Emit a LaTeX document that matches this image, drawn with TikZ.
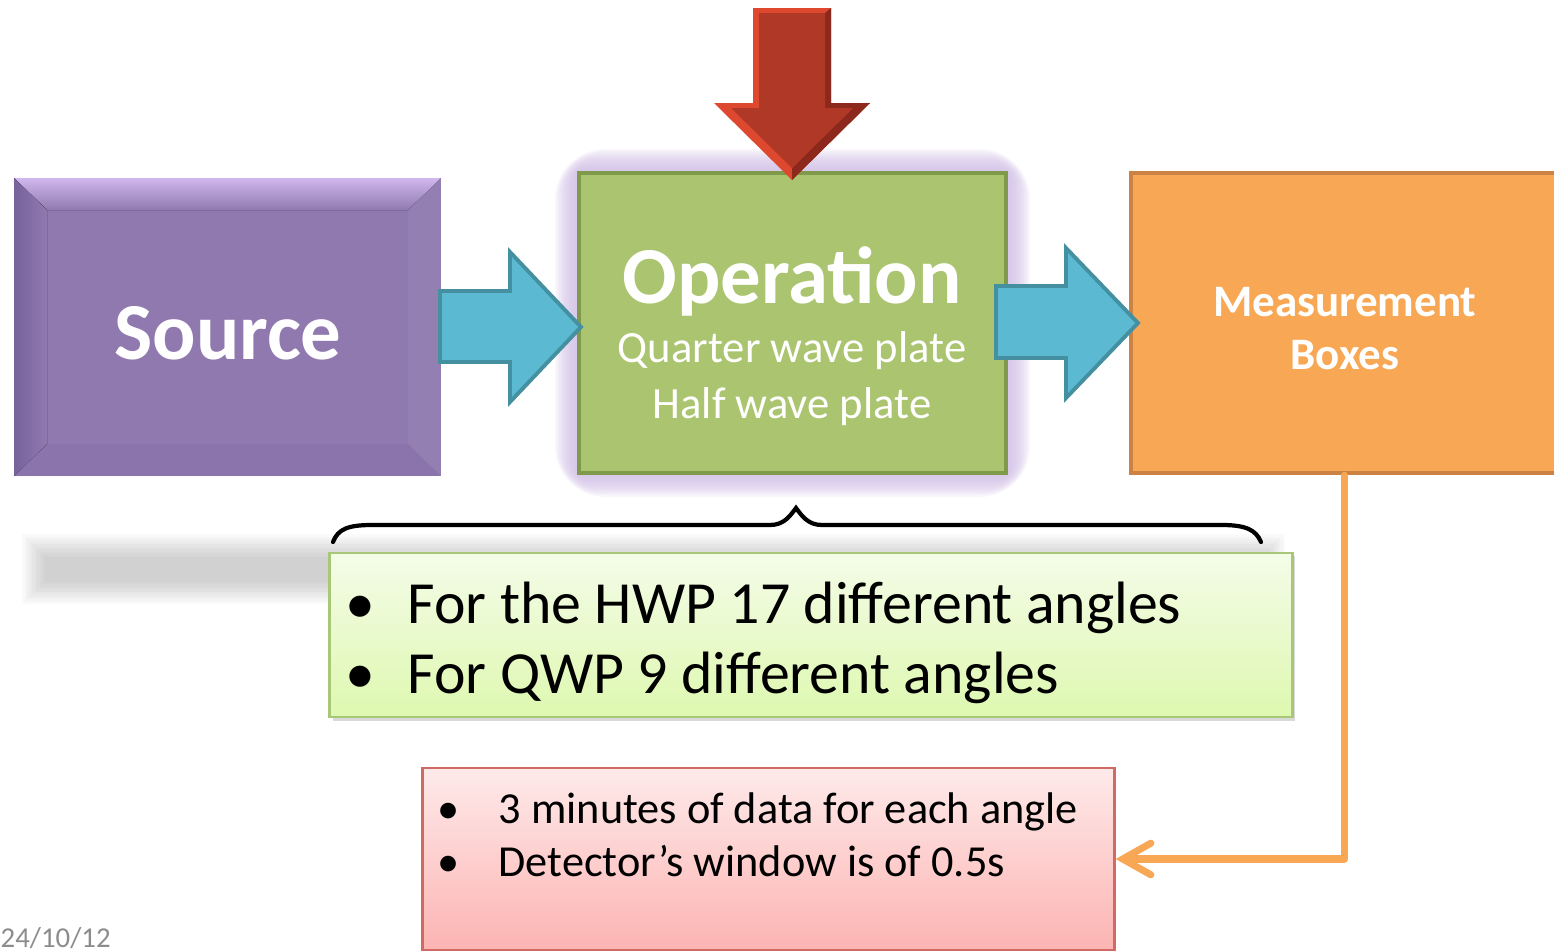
\documentclass[tikz,border=0pt]{standalone}
\usepackage{fontspec}
\setmainfont{Carlito}
\usepackage{xcolor}
\usepackage{tikz}
\usetikzlibrary{arrows.meta,positioning}

\definecolor{srcpurple}{RGB}{143,121,175}
\definecolor{srclight}{RGB}{208,184,238}
\definecolor{srcdark}{RGB}{120,98,155}
\definecolor{opgreen}{RGB}{171,196,111}
\definecolor{opedge}{RGB}{126,154,74}
\definecolor{opglow}{RGB}{205,185,228}
\definecolor{bluefill}{RGB}{91,185,209}
\definecolor{blueedge}{RGB}{68,144,160}
\definecolor{measfill}{RGB}{248,167,85}
\definecolor{measedge}{RGB}{204,130,66}
\definecolor{reddark}{RGB}{176,56,38}
\definecolor{redlight}{RGB}{222,72,46}
\definecolor{redshade}{RGB}{140,40,28}
\definecolor{notetop}{RGB}{244,252,232}
\definecolor{notebot}{RGB}{222,248,176}
\definecolor{noteedge}{RGB}{168,200,120}
\definecolor{pinktop}{RGB}{254,234,234}
\definecolor{pinkbot}{RGB}{252,180,178}
\definecolor{pinkedge}{RGB}{210,106,100}
\definecolor{datagray}{RGB}{140,140,140}

\tikzset{
  block/.style={minimum width=4.27cm, minimum height=3cm, inner sep=0pt},
  blockarrow/.style={fill=bluefill, draw=blueedge, line width=1.1pt},
  boxlabel/.style={text=white, anchor=base, inner sep=0pt},
  bulletline/.style={anchor=base west, inner sep=0pt},
  bulletdot/.style={anchor=base, inner sep=0pt},
}

\begin{document}
\begin{tikzpicture}[x=0.01cm, y=-0.01cm]
    \useasboundingbox (0,0) rectangle (1554,951);

    % soft gray band behind the note
    \foreach \g in {0,...,9} {
        \fill[black, opacity=0.02] (22+2.5*\g, 534+2.5*\g) rectangle (1285-2.5*\g, 604-2.5*\g);
    };

    % glow round the operation box
    \foreach \g [evaluate=\g as \rc using \g*1.2] in {1,...,12} {
        \fill[opglow, opacity=0.13, rounded corners=\rc pt]
            (579-2*\g, 173-2*\g) rectangle (1006+2*\g, 473+2*\g);
    };

    % the three blocks
    \node[block, fill=srcpurple, minimum height=2.98cm] (src) at (227.5,327) {};
    \node[block, fill=opgreen, draw=opedge, line width=1.1pt] (op) at (792.5,323) {};
    \node[block, fill=measfill, draw=measedge, line width=1.2pt] (meas) at (1344.5,323) {};

    % bevel of the source block
    \fill[top color=srclight, bottom color=srcpurple] (14,178) -- (441,178) -- (408,210) -- (47,210) -- cycle;
    \fill[left color=srcdark, right color=srcpurple] (14,178) -- (47,210) -- (47,444) -- (14,476) -- cycle;
    \fill[srcdark, opacity=0.2] (14,476) -- (47,444) -- (408,444) -- (441,476) -- cycle;
    \fill[white, opacity=0.05] (441,178) -- (408,210) -- (408,444) -- (441,476) -- cycle;

    % block arrows between the blocks
    \draw[blockarrow] (440,291) -- (510,291) -- (510,252) -- (581,327) -- (510,402) -- (510,362) -- (440,362) -- cycle;
    \draw[blockarrow] (996,286) -- (1066,286) -- (1066,248) -- (1138,323) -- (1066,398) -- (1066,358) -- (996,358) -- cycle;

    % red arrow from the top
    \fill[redlight] (753,8) -- (831,8) -- (831,103) -- (870,103) -- (792,180) -- (714,103) -- (753,103) -- cycle;
    \fill[redshade] (831,8) -- (831,103) -- (870,103) -- (792,180) -- (792,168) -- (853,108) -- (825,108) -- (825,13) -- cycle;
    \fill[reddark] (759,13) -- (825,13) -- (825,108) -- (853,108) -- (792,168) -- (731,108) -- (759,108) -- cycle;

    % block labels
    \node[text=white, font=\fontsize{23}{28}\selectfont\bfseries] (srclabel) at (228,333) {Source};
    \node[boxlabel, font=\fontsize{23}{28}\selectfont\bfseries] (optitle) at (792,303) {Operation};
    \node[boxlabel, font=\fontsize{12.7}{15}\selectfont] (qwp) at (792,362) {Quarter wave plate};
    \node[boxlabel, font=\fontsize{12.7}{15}\selectfont] (hwp) at (792,418) {Half wave plate};
    \node[boxlabel, font=\fontsize{12.8}{15}\selectfont\bfseries] (meastitle) at (1345,316) {Measurement};
    \node[boxlabel, font=\fontsize{12.8}{15}\selectfont\bfseries] (measbox) at (1345,369) {Boxes};

    % brace over the note
    \draw[line width=1.2pt, line cap=round] (333,542) .. controls (338,529) and (348,525) .. (372,525)
        -- (770,525) .. controls (784,525) and (790,516) .. (796,508)
        .. controls (802,516) and (808,525) .. (822,525) -- (1222,525)
        .. controls (1246,525) and (1256,530) .. (1261,542);

    % green note
    \fill[black, opacity=0.15] (333,556) rectangle (1295,721);
    \node[draw=noteedge, line width=0.8pt, top color=notetop, bottom color=notebot,
          minimum width=9.62cm, minimum height=1.64cm, inner sep=0pt] (note) at (811,635) {};
    \foreach \n/\y/\t in {a/623/For the HWP 17 different angles, b/693/For QWP 9 different angles} {
        \node[bulletdot, font=\fontsize{17}{20}\selectfont] (notedot\n) at (360,\y) {\textbullet};
        \node[bulletline, font=\fontsize{17}{20}\selectfont] (noteline\n) at (407,\y) {\t};
    };

    % pink note
    \node[draw=pinkedge, line width=0.8pt, top color=pinktop, bottom color=pinkbot,
          minimum width=6.91cm, minimum height=1.82cm, inner sep=0pt] (data) at (768.5,859) {};
    \foreach \n/\y/\t in {a/823/3 minutes of data for each angle, b/876/Detector’s window is of 0.5s} {
        \node[bulletdot, font=\fontsize{12.6}{15}\selectfont] (datadot\n) at (449,\y) {\textbullet};
        \node[bulletline, font=\fontsize{12.6}{15}\selectfont] (dataline\n) at (498,\y) {\t};
    };

    % connector from the measurement block
    \draw[measfill, line width=2pt, line cap=round, line join=round,
          -{Straight Barb[length=8pt, width=9pt, line cap=round]}] (meas.south) |- (data.east);

    \node[anchor=base west, inner sep=0pt, text=datagray, font=\fontsize{8.2}{10}\selectfont] (date) at (0,947) {24/10/12};
\end{tikzpicture}
\end{document}
